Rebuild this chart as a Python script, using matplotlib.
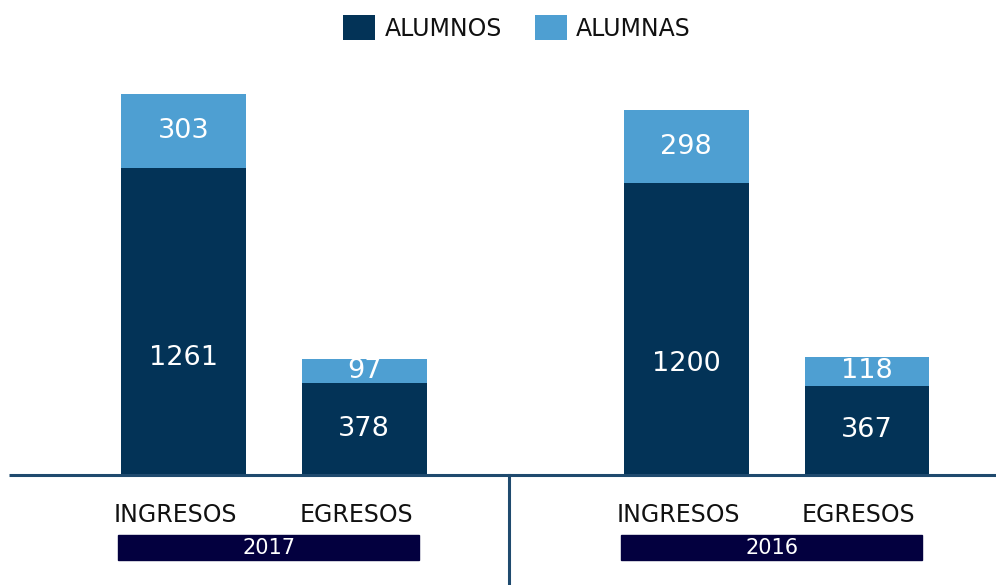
import matplotlib
matplotlib.use("Agg")
import matplotlib.pyplot as plt
from matplotlib.patches import Rectangle
import numpy as np

# ---- data ----
years = ["2017", "2016"]
categories = ["INGRESOS", "EGRESOS"]
alumnos = [1261, 378, 1200, 367]   # dark segment (bottom)
alumnas = [303, 97, 298, 118]      # light segment (top)
series_names = ["ALUMNOS", "ALUMNAS"]

# ---- style ----
DARK = "#033357"
LIGHT = "#4e9fd2"
BOX = "#03003f"
LINE = "#1f4a6e"
TXT = "#111111"
plt.rcParams['font.family'] = ['DejaVu Sans']

W, H = 996, 585
fig = plt.figure(figsize=(W / 100, H / 100), dpi=100)
ax = fig.add_axes([0, 0, 1, 1])

# layout: positions in bar units
inner = 0.985
group_start = [0.0, 2.74]
pos = []
for g in group_start:
    for k in range(len(categories)):
        pos.append(g + k * inner)
pos = np.array(pos)
bw = 0.68

bars1 = ax.bar(pos, alumnos, width=bw, color=DARK, label=series_names[0], zorder=2)
bars2 = ax.bar(pos, alumnas, width=bw, bottom=alumnos, color=LIGHT, label=series_names[1], zorder=2)

px_per_unit_x = 183.5
x0_px = 183.5
ax.set_xlim(-x0_px / px_per_unit_x, (W - x0_px) / px_per_unit_x)
scale = 0.2435  # px per value
base_px = 110
ax.set_ylim(-base_px / scale, (H - base_px) / scale)
ax.axis("off")

# value labels
for i, (a, b) in enumerate(zip(alumnos, alumnas)):
    ya = a * 0.5 if a < 600 else a * 0.38
    ax.text(pos[i], ya, str(a), ha="center", va="center", color="white", fontsize=19.5)
    ax.text(pos[i], a + b / 2, str(b), ha="center", va="center", color="white", fontsize=19.5)

# baseline and divider
ax.plot([9 / W, 1.0], [0, 0], transform=ax.get_yaxis_transform(), color=LINE, lw=2.2,
        solid_capstyle="butt", zorder=3)
xt = ax.get_xaxis_transform()
div_x = (pos[1] + pos[2]) / 2 - 0.09
ax.plot([div_x, div_x], [0, base_px / H], transform=xt, color=LINE, lw=2.2, zorder=3)

# category labels and year boxes
for gi, yr in enumerate(years):
    for k, cat in enumerate(categories):
        i = gi * len(categories) + k
        ax.text(pos[i] - 0.045, 70 / H, cat, transform=xt, ha="center", va="center",
                color=TXT, fontsize=17)
    left = pos[gi * 2] - bw / 2 - 0.015
    right = pos[gi * 2 + 1] + bw / 2 - 0.04
    ax.add_patch(Rectangle((left, 25 / H), right - left, 25 / H, transform=xt,
                           color=BOX, zorder=2, clip_on=False))
    ax.text((left + right) / 2, 37.5 / H, yr, transform=xt, ha="center", va="center",
            color="white", fontsize=15)

leg = fig.legend(handles=[bars1, bars2], labels=series_names, loc="center",
                 bbox_to_anchor=(517 / W, 1 - 28 / H), ncol=2, frameon=False,
                 fontsize=17, handlelength=1.35, handleheight=1.25,
                 handletextpad=0.4, columnspacing=1.4)
for t in leg.get_texts():
    t.set_color(TXT)

fig.savefig("out.png", dpi=100)
